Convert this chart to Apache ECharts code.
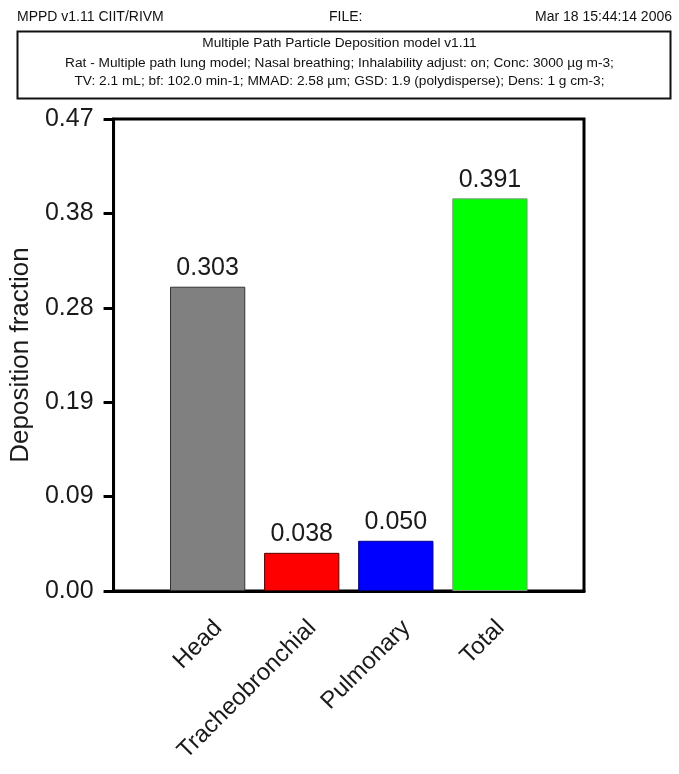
<!DOCTYPE html>
<html>
<head>
<meta charset="utf-8">
<script src="https://cdn.jsdelivr.net/npm/echarts@6/dist/echarts.min.js"></script>
<style>
html,body{margin:0;padding:0;background:#fff;}
#chart{width:679px;height:774px;}
</style>
</head>
<body>
<div id="chart"></div>
<script>
// ---- data ----
var categories = ['Head', 'Tracheobronchial', 'Pulmonary', 'Total'];
var depositionValues = [0.303, 0.038, 0.050, 0.391];
var barColors = ['#808080', '#ff0000', '#0000ff', '#00ff00'];
var barBorders = ['#333333', '#5a0000', '#00007a', '#7a9a7a'];
var yMin = 0, yMax = 0.47, yInterval = 0.094;
var headerLeft = 'MPPD v1.11 CIIT/RIVM';
var headerCenter = 'FILE:';
var headerRight = 'Mar 18 15:44:14 2006';
var boxLines = [
  'Multiple Path Particle Deposition model v1.11',
  'Rat - Multiple path lung model; Nasal breathing; Inhalability adjust: on; Conc: 3000 µg m-3;',
  'TV: 2.1 mL; bf: 102.0 min-1; MMAD: 2.58 µm; GSD: 1.9 (polydisperse); Dens: 1 g cm-3;'
];

// pad with one empty slot on each side (axis spans 0..5)
var xCats = [''].concat(categories).concat(['']);
var seriesData = [null];
for (var i = 0; i < depositionValues.length; i++) {
  seriesData.push({
    value: depositionValues[i],
    itemStyle: {color: barColors[i], borderColor: barBorders[i], borderWidth: 1}
  });
}
seriesData.push(null);

var FONT = '"Liberation Sans", Arial, sans-serif';
function ts(size) {
  return {fontFamily: FONT, fontSize: size, lineHeight: 16, fontWeight: 'normal', color: '#111'};
}
var chart = echarts.init(document.getElementById('chart'), null, {renderer: 'canvas'});

var option = {
  animation: false,
  backgroundColor: '#ffffff',
  title: [
    {text: headerLeft, left: 17, top: 9, padding: 0, textStyle: ts(14)},
    {text: headerCenter, left: 329, top: 9, padding: 0, textStyle: ts(14)},
    {text: headerRight, right: 7, top: 9, padding: 0, textStyle: ts(14)},
    {text: boxLines[0], left: 'center', top: 35, padding: 0, textStyle: ts(13.7)},
    {text: boxLines[1], left: 'center', top: 55, padding: 0, textStyle: ts(13.7)},
    {text: boxLines[2], left: 'center', top: 73, padding: 0, textStyle: ts(13.7)}
  ],
  graphic: [
    {type: 'rect', left: 15, top: 29, shape: {width: 653, height: 67},
     style: {fill: 'none', stroke: '#111', lineWidth: 2}, z: 10}
  ],
  grid: {
    left: 112, top: 119, width: 472, height: 472,
    show: true, borderColor: '#000', borderWidth: 3, backgroundColor: 'transparent'
  },
  xAxis: {
    type: 'category',
    data: xCats,
    boundaryGap: false,
    axisLine: {lineStyle: {color: '#000', width: 3}},
    axisTick: {show: false},
    splitLine: {show: false},
    axisLabel: {
      interval: 0, rotate: 45, margin: 44,
      padding: [0, -15, 0, 0],
      fontFamily: FONT, fontSize: 24, color: '#1a1a1a'
    }
  },
  yAxis: {
    type: 'value',
    min: yMin, max: yMax, interval: yInterval,
    name: 'Deposition fraction',
    nameLocation: 'middle',
    nameGap: 78,
    nameTextStyle: {fontFamily: FONT, fontSize: 26, color: '#1a1a1a'},
    axisLine: {show: true, lineStyle: {color: '#000', width: 3}},
    axisTick: {show: true, inside: false, length: 10, lineStyle: {color: '#000', width: 3}},
    splitLine: {show: false},
    axisLabel: {
      margin: 20, fontFamily: FONT, fontSize: 25, color: '#1a1a1a',
      formatter: function (v) { return v.toFixed(2); }
    }
  },
  series: [{
    type: 'bar',
    data: seriesData,
    barWidth: '80%',
    label: {
      show: true, position: 'top', distance: 6,
      fontFamily: FONT, fontSize: 25, color: '#1a1a1a',
      formatter: function (p) { return p.value.toFixed(3); }
    }
  }]
};
chart.setOption(option);
</script>
</body>
</html>
